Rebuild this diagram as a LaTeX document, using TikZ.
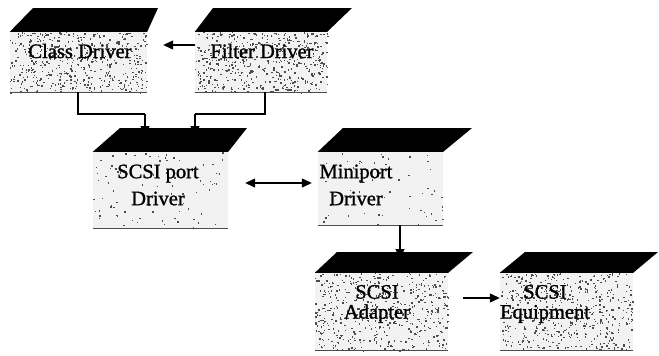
\documentclass[tikz,border=0pt]{standalone}
\usepackage{fontspec}
\setmainfont{Liberation Serif}
\newfontfamily\scanfont[FakeBold=1.2]{Liberation Serif}
\usetikzlibrary{arrows.meta,calc}
\newcommand\mybox[9]{%
  \node[body, minimum width={(#3-#2)*1pt}, minimum height={(#6-#5)*1pt}] (#1) at ({(#2+#3)/2},{(#5+#6)/2}) {};
  \fill[black] (#7,#4) -- (#8,#4) -- (#1.north east) -- (#1.north west) -- cycle;
  \foreach \k in {1,...,#9} {\fill[speck] ({#2+rnd*(#3-#2)},{#5+rnd*(#6-#5)}) rectangle ++({0.7+rnd*1.4},{0.7+rnd*1.4});}
  \draw[black!70, line width=0.8pt] (#1.south west) -- (#1.south east);
}
\begin{document}
\begin{tikzpicture}[x=1pt,y=-1pt,
  body/.style={draw=none, fill=gray!10, inner sep=0pt},
  speck/.style={fill=black!70},
  lbl/.style={font=\scanfont\fontsize{20.5}{22}\selectfont, align=center, inner sep=0pt, text=black},
  conn/.style={line width=1.1pt, -{Triangle[length=10pt,width=9pt]}},
  conn2/.style={line width=1.1pt, {Triangle[length=10pt,width=9pt]}-{Triangle[length=10pt,width=9pt]}}]
\pgfmathsetseed{7}
\fill[white] (0,0) rectangle (659,356);
\useasboundingbox (0,0) rectangle (659,356);
\mybox{cls}{10}{147}{8}{32}{92}{33}{158}{480}
\mybox{fil}{195}{327}{8}{32}{92}{213}{352}{480}
\mybox{scsi}{93}{228}{128}{152}{228}{120}{247}{80}
\mybox{mini}{318}{443}{128}{152}{225}{343}{472}{60}
\mybox{adp}{315}{448}{252}{273}{350}{337}{473}{500}
\mybox{equ}{500}{633}{252}{273}{350}{525}{658}{500}
\node[lbl] (clsT) at (80,51) {Class Driver};
\node[lbl] (filT) at (262,51) {Filter Driver};
\node[lbl, font=\scanfont\fontsize{20.5}{27}\selectfont] (scsiT) at (158,185) {SCSI port\\Driver};
\node[lbl, font=\scanfont\fontsize{20.5}{27}\selectfont] (miniT) at (356,185) {Miniport\\Driver};
\node[lbl, font=\scanfont\fontsize{20.5}{20}\selectfont] (adpT) at (377,304) {SCSI\\Adapter};
\node[lbl, font=\scanfont\fontsize{20.5}{20}\selectfont] (equT) at (545,304) {SCSI\\Equipment};
% connectors
\draw[conn] (fil.west |- 0,45) -- ([xshift=16pt]cls.east |- 0,45);
\draw[line width=1.1pt] (cls.south -| 78,0) |- (145,114) coordinate (c1);
\draw[conn] (c1) -- (145,136);
\draw[line width=1.1pt] (fil.south -| 265,0) |- (195,114) coordinate (c2);
\draw[conn] (c2) -- (195,136);
\draw[conn2] ([xshift=17pt]scsi.east |- 0,183) -- ([xshift=-6pt]mini.west |- 0,183);
\draw[conn] (mini.south -| 400,0) -- (400,259);
\draw[conn] ([xshift=15pt]adp.east |- 0,298) -- (equ.west |- 0,298);
\end{tikzpicture}
\end{document}
